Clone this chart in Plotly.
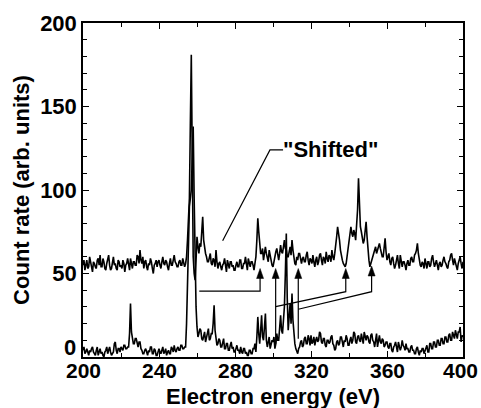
import plotly.graph_objects as go

# Electron energy grid, 0.5 eV steps from 200 to 400 eV
energy_start = 200.0
energy_step = 0.5

# "Shifted" spectrum (upper trace), one row per 10 eV
shifted_counts = [
    55, 58, 52, 56, 58, 53, 54, 60, 57, 52, 51, 57, 56, 54, 53, 58, 59, 55, 61, 54,
    54, 59, 57, 53, 52, 56, 58, 61, 55, 52, 53, 57, 60, 55, 56, 53, 52, 58, 57, 54,
    55, 53, 58, 56, 51, 55, 56, 59, 54, 52, 59, 56, 53, 57, 57, 55, 55, 61, 60, 56,
    64, 58, 56, 60, 53, 57, 58, 54, 52, 56, 55, 59, 57, 53, 50, 55, 56, 58, 54, 57,
    58, 55, 53, 57, 60, 56, 55, 58, 57, 54, 52, 56, 59, 55, 55, 58, 61, 57, 56, 54,
    54, 57, 58, 55, 55, 59, 57, 54, 56, 60, 70, 82, 95, 140, 181, 120, 60, 50, 46, 58,
    72, 66, 62, 68, 66, 75, 84, 70, 65, 62, 60, 57, 57, 60, 62, 56, 55, 59, 58, 54,
    64, 57, 53, 56, 57, 54, 52, 55, 56, 59, 54, 51, 58, 55, 53, 57, 57, 54, 55, 52,
    52, 55, 57, 54, 54, 58, 58, 53, 53, 56, 56, 60, 55, 52, 59, 56, 54, 57, 57, 55,
    52, 56, 60, 70, 83, 75, 68, 62, 62, 65, 58, 61, 66, 62, 60, 57, 64, 60, 57, 55,
    54, 58, 60, 63, 65, 60, 58, 62, 67, 63, 62, 66, 70, 65, 64, 60, 60, 63, 66, 61,
    70, 64, 59, 56, 55, 60, 58, 62, 62, 58, 56, 59, 60, 57, 57, 61, 63, 58, 55, 59,
    58, 56, 61, 57, 54, 58, 60, 55, 57, 61, 62, 58, 55, 60, 59, 56, 63, 59, 57, 61,
    60, 57, 64, 60, 58, 62, 66, 72, 78, 75, 70, 64, 60, 58, 56, 55, 54, 56, 60, 64,
    68, 72, 78, 74, 72, 76, 74, 70, 80, 88, 107, 90, 78, 75, 72, 68, 70, 76, 81, 72,
    62, 58, 54, 56, 57, 60, 62, 64, 66, 62, 64, 67, 68, 65, 63, 60, 60, 64, 71, 63,
    58, 60, 62, 57, 55, 59, 60, 56, 53, 55, 58, 61, 56, 53, 61, 58, 54, 57, 57, 55,
    52, 56, 58, 55, 55, 59, 60, 57, 57, 61, 62, 64, 68, 62, 58, 55, 54, 57, 56, 53,
    59, 56, 53, 57, 57, 54, 55, 59, 61, 57, 54, 56, 58, 55, 52, 56, 57, 54, 55, 58,
    60, 57, 56, 54, 53, 57, 58, 61, 62, 58, 55, 59, 57, 54, 52, 56, 58, 60, 56, 53,
    57,
]

# Unshifted spectrum (lower trace), one row per 10 eV
plain_counts = [
    4, 6, 2, 3, 5, 2, 1, 4, 3, 5, 6, 3, 2, 1, 4, 6, 1, 3, 5, 2,
    3, 1, 0, 3, 4, 6, 2, 4, 6, 3, 1, 2, 3, 8, 9, 4, 2, 5, 5, 3,
    6, 5, 4, 7, 7, 5, 5, 6, 6, 14, 32, 15, 10, 8, 8, 11, 11, 7, 6, 9,
    9, 5, 4, 2, 2, 4, 5, 3, 1, 4, 3, 6, 6, 2, 2, 5, 4, 1, 1, 3,
    5, 3, 2, 4, 6, 2, 3, 5, 1, 3, 4, 2, 2, 6, 5, 3, 7, 4, 3, 5,
    6, 4, 4, 7, 7, 5, 5, 6, 6, 20, 45, 70, 90, 95, 100, 120, 138, 95, 60, 30,
    18, 12, 14, 17, 16, 11, 10, 13, 15, 9, 12, 16, 17, 10, 11, 14, 14, 20, 31, 16,
    12, 7, 8, 11, 10, 6, 6, 9, 11, 5, 5, 8, 8, 4, 4, 7, 9, 5, 6, 3,
    3, 5, 7, 4, 4, 2, 6, 3, 2, 5, 5, 2, 3, 1, 1, 4, 4, 2, 2, 5,
    5, 8, 3, 12, 24, 14, 8, 16, 25, 12, 10, 18, 26, 10, 6, 9, 12, 5, 7, 10,
    9, 12, 5, 8, 14, 10, 10, 18, 25, 16, 14, 22, 30, 50, 74, 35, 16, 24, 32, 20,
    38, 22, 14, 8, 5, 3, 2, 5, 6, 9, 10, 6, 7, 11, 12, 8, 8, 13, 11, 7,
    13, 8, 9, 12, 7, 10, 12, 9, 10, 15, 14, 9, 8, 11, 11, 7, 6, 10, 10, 8,
    9, 12, 13, 8, 7, 4, 5, 9, 10, 7, 8, 12, 12, 9, 6, 10, 9, 13, 11, 7,
    7, 10, 12, 8, 10, 15, 14, 9, 8, 12, 13, 10, 9, 14, 11, 8, 15, 12, 10, 13,
    12, 9, 8, 13, 14, 10, 9, 6, 11, 14, 6, 10, 13, 9, 8, 11, 10, 6, 7, 9,
    9, 6, 5, 8, 8, 4, 3, 6, 7, 9, 6, 3, 9, 7, 4, 6, 10, 7, 6, 4,
    8, 5, 5, 3, 3, 6, 7, 4, 4, 2, 2, 5, 6, 3, 1, 4, 3, 5, 5, 2,
    4, 6, 7, 3, 3, 8, 8, 5, 5, 9, 9, 6, 6, 10, 10, 7, 7, 11, 11, 8,
    8, 12, 12, 9, 9, 13, 14, 10, 10, 15, 13, 11, 16, 12, 11, 15, 15, 18, 9, 13,
    12,
]

energy = [energy_start + i * energy_step for i in range(len(plain_counts))]

# Axis ticks and titles
x_ticks = [200, 240, 280, 320, 360, 400]
x_tick_text = ["200", "240", "280", "320", "360", "400"]
y_ticks = [0, 50, 100, 150, 200]
y_tick_text = ["", "50", "100", "150", "200"]
zero_label = "0"
x_title = "Electron energy (eV)"
y_title = "Count rate (arb. units)"

# Correspondence arrows: polylines (energies, counts) and arrow tips
arrow_paths = [
    ([261.2, 293.2, 293.2], [39.5, 39.5, 48.0]),
    ([301.4, 301.4], [8.0, 48.0]),
    ([301.4, 338.3, 338.3], [30.2, 39.1, 48.0]),
    ([313.3, 313.3], [11.0, 48.0]),
    ([313.3, 351.9, 351.9], [28.6, 39.1, 49.0]),
]
arrow_tips = [(293.2, 53.0), (301.4, 53.0), (338.3, 53.0), (313.3, 53.0), (351.9, 54.5)]

# Leader line for the "Shifted" label
label_line_x = [273.5, 298.4, 305.3]
label_line_y = [69.6, 124.0, 124.0]
label_text = '"Shifted"'

FONT = "Liberation Sans"
INK = "black"


def bold(size):
    return dict(family=FONT, size=size, color=INK, weight="bold")


fig = go.Figure()
fig.add_trace(go.Scatter(x=energy, y=shifted_counts, mode="lines",
                         line=dict(color=INK, width=1.6), hoverinfo="skip"))
fig.add_trace(go.Scatter(x=energy, y=plain_counts, mode="lines",
                         line=dict(color=INK, width=1.6), hoverinfo="skip"))

for xs, ys in arrow_paths:
    fig.add_trace(go.Scatter(x=xs, y=ys, mode="lines",
                             line=dict(color=INK, width=1.2), hoverinfo="skip"))

fig.add_trace(go.Scatter(x=label_line_x, y=label_line_y, mode="lines",
                         line=dict(color=INK, width=1.2), hoverinfo="skip"))

# Filled arrowheads, sized in pixels and anchored at each tip
for tx, ty in arrow_tips:
    fig.add_shape(type="path", xref="x", yref="y",
                  xsizemode="pixel", ysizemode="pixel",
                  xanchor=tx, yanchor=ty,
                  path="M0,0 L-3.5,-10 L3.5,-10 Z",
                  fillcolor=INK, line=dict(color=INK, width=0.5))

fig.add_annotation(x=label_line_x[-1], y=label_line_y[-1], text=label_text,
                   showarrow=False, xanchor="left", yanchor="middle", xshift=-2,
                   font=bold(22))

# The zero label sits just above its tick, clear of the x labels
fig.add_annotation(x=0, xref="paper", y=0, yref="y", text=zero_label,
                   showarrow=False, xanchor="right", yanchor="bottom",
                   xshift=-5, yshift=-5, font=bold(22))

# x tick labels and title, placed under the frame
for val, txt in zip(x_ticks, x_tick_text):
    shift = -3 if val == x_ticks[-1] else 0
    fig.add_annotation(x=val, xref="x", y=0, yref="paper", text=txt,
                       showarrow=False, xanchor="center", yanchor="top",
                       xshift=shift, yshift=0, font=bold(21))
fig.add_annotation(x=0.5, xref="paper", y=0, yref="paper", text=x_title,
                   showarrow=False, xanchor="center", yanchor="top",
                   yshift=-25, font=bold(22))

axis_common = dict(
    showline=True, linecolor=INK, linewidth=1.5, mirror="ticks",
    ticks="inside", ticklen=6, tickwidth=1.2, tickcolor=INK,
    showgrid=False, zeroline=False, automargin=False,
)

fig.update_xaxes(range=[200, 400], tickvals=x_ticks, showticklabels=False,
                 minor=dict(dtick=20, ticks="inside", ticklen=4, tickcolor=INK),
                 **axis_common)
fig.update_yaxes(range=[0, 200], tickvals=y_ticks, ticktext=y_tick_text,
                 tickfont=bold(22),
                 minor=dict(dtick=10, ticks="inside", ticklen=4, tickcolor=INK),
                 title=dict(text=y_title, standoff=4, font=bold(22)),
                 **axis_common)

fig.update_layout(
    width=481, height=408,
    margin=dict(l=83, r=18, t=23, b=51),
    paper_bgcolor="white", plot_bgcolor="white",
    showlegend=False,
)

fig.write_html("out.html")
